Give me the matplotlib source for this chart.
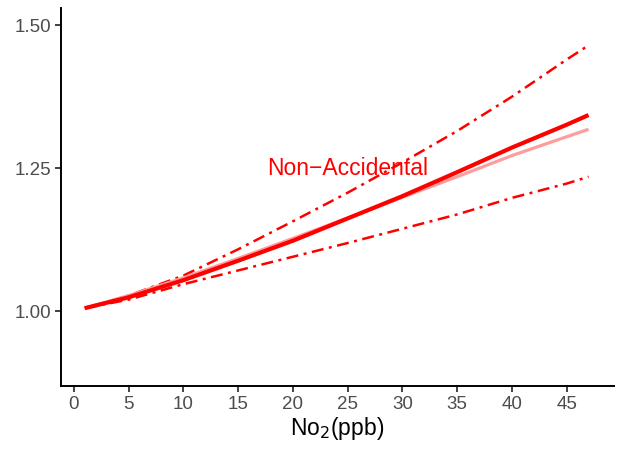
import matplotlib
matplotlib.use("Agg")
import matplotlib.pyplot as plt
from matplotlib.ticker import FormatStrFormatter

plt.rcParams['font.family'] = ['Liberation Sans', 'DejaVu Sans']

# NO2 concentration (ppb) and hazard ratios
no2 = [1, 5, 10, 15, 20, 25, 30, 35, 40, 45, 47]
hr_main = [1.005, 1.024, 1.054, 1.088, 1.123, 1.162, 1.201, 1.243, 1.286, 1.326, 1.343]
hr_alt = [1.005, 1.027, 1.058, 1.092, 1.127, 1.163, 1.199, 1.235, 1.272, 1.305, 1.318]
hr_upper = [1.005, 1.027, 1.062, 1.108, 1.157, 1.207, 1.260, 1.315, 1.375, 1.440, 1.465]
hr_lower = [1.005, 1.020, 1.047, 1.071, 1.095, 1.119, 1.144, 1.169, 1.198, 1.223, 1.235]

x_ticks = [0, 5, 10, 15, 20, 25, 30, 35, 40, 45]
y_ticks = [1.00, 1.25, 1.50]

red = "#FF0000"
pink = "#FF9C9C"
tick_gray = "#4D4D4D"

fig = plt.figure(figsize=(6.27, 4.54), dpi=100)
ax = fig.add_axes([0.0968, 0.150, 0.882, 0.832])

dashdot = (0, (4.8, 2.2, 1.2, 2.2))
ax.plot(no2, hr_upper, color=red, lw=1.8, linestyle=dashdot)
ax.plot(no2, hr_lower, color=red, lw=1.8, linestyle=dashdot)
ax.plot(no2, hr_alt, color=pink, lw=2.3, solid_capstyle="butt")
ax.plot(no2, hr_main, color=red, lw=3.0, solid_capstyle="butt")

ax.text(25, 1.25, "Non\u2212Accidental", color=red, fontsize=16.5,
        ha="center", va="center")

ax.set_xlim(-1.2, 49.3)
ax.set_ylim(0.869, 1.53)
ax.set_xticks(x_ticks)
ax.set_yticks(y_ticks)
ax.yaxis.set_major_formatter(FormatStrFormatter("%.2f"))

for side in ["top", "right"]:
    ax.spines[side].set_visible(False)
for side in ["left", "bottom"]:
    ax.spines[side].set_linewidth(1.4)
    ax.spines[side].set_color("black")

ax.tick_params(axis="both", length=4, width=1.3, color="#333333",
               labelsize=13.5, labelcolor=tick_gray, pad=3)
ax.set_xlabel("No$_2$(ppb)", fontsize=16.5, color="black", labelpad=2)

fig.savefig("out.png", dpi=100)
